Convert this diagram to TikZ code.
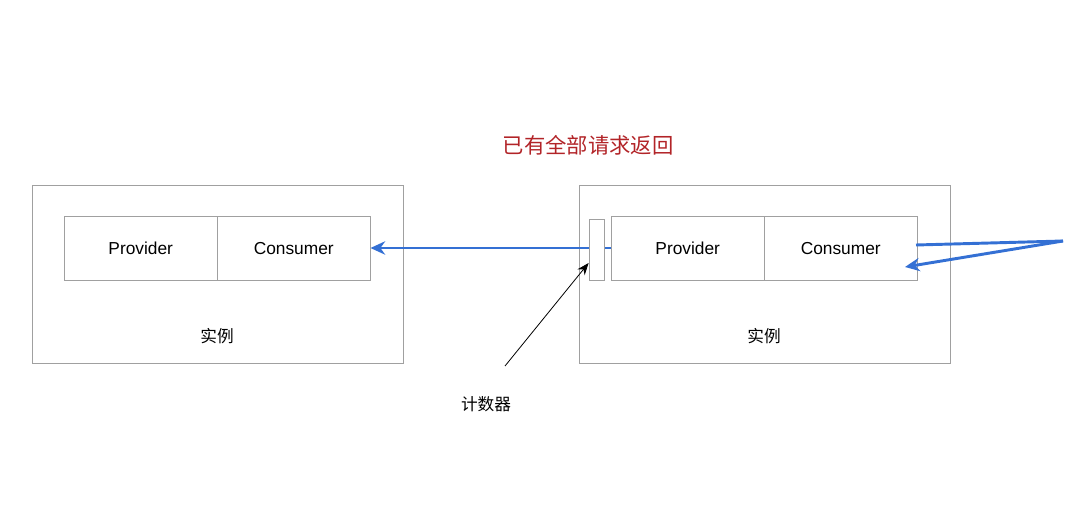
\documentclass[tikz,border=0pt]{standalone}
\usepackage{fontspec}
\setmainfont{Liberation Sans}
\newfontfamily\cjk{Noto Sans CJK SC}
\usetikzlibrary{arrows.meta}
\definecolor{boxgray}{RGB}{160,160,160}
\definecolor{arrblue}{RGB}{52,112,212}
\definecolor{titlered}{RGB}{178,36,40}
\begin{document}
\begin{tikzpicture}[x=0.75pt,y=-0.75pt,
  outerbox/.style={draw=boxgray,line width=0.6pt},
  cell/.style={draw=boxgray,line width=0.6pt,minimum height=48pt,minimum width=114.5pt,inner sep=0pt,font=\fontsize{13}{15}\selectfont},
  bluearrow/.style={draw=arrblue,line width=2.2pt,-{Stealth[length=11pt,width=10pt]}},
  lbl/.style={font=\cjk\fontsize{12.5}{14}\selectfont}]
\useasboundingbox (0,0) rectangle (1080,523);
% left instance
\node[outerbox,minimum width=278.25pt,minimum height=133.5pt,inner sep=0pt] (L) at (217.5,274) {};
\node[cell,anchor=north west] (Lp) at (64,216) {Provider};
\node[cell,anchor=north west] (Lc) at (217,216) {Consumer};
\node[lbl] (Ll) at (217,336) {实例};
% right instance
\node[outerbox,minimum width=278.25pt,minimum height=133.5pt,inner sep=0pt] (R) at (764.5,274) {};
\node[cell,anchor=north west] (Rp) at (611,216) {Provider};
\node[cell,anchor=north west] (Rc) at (764,216) {Consumer};
\node[lbl] (Rl) at (764,336) {实例};
% arrows
\coordinate (rs) at (Rp.west |- 0,248);
\coordinate (le) at (Lc.east |- 0,248);
\draw[bluearrow] (rs) -- (le);
\node[draw=boxgray,line width=0.6pt,fill=white,minimum width=11.25pt,minimum height=45.75pt,inner sep=0pt] (cnt) at (596.5,249.5) {};
\coordinate (tip) at (1063,241);
\coordinate (a1) at (916,245);
\coordinate (a2) at (905,267);
\draw[arrblue,line width=2.2pt,line join=round] (a1) -- (tip);
\draw[bluearrow] (tip) -- (a2);
% title
\node[font=\cjk\fontsize{16}{19}\selectfont,text=titlered] (title) at (588,145) {已有全部请求返回};
% counter label
\node[lbl] (cl) at (486,404) {计数器};
\coordinate (cs) at (505,366);
\draw[black,line width=0.6pt,-{Stealth[length=9pt,width=7pt]}] (cs) -- (cnt.south west |- 0,263);
\end{tikzpicture}
\end{document}
